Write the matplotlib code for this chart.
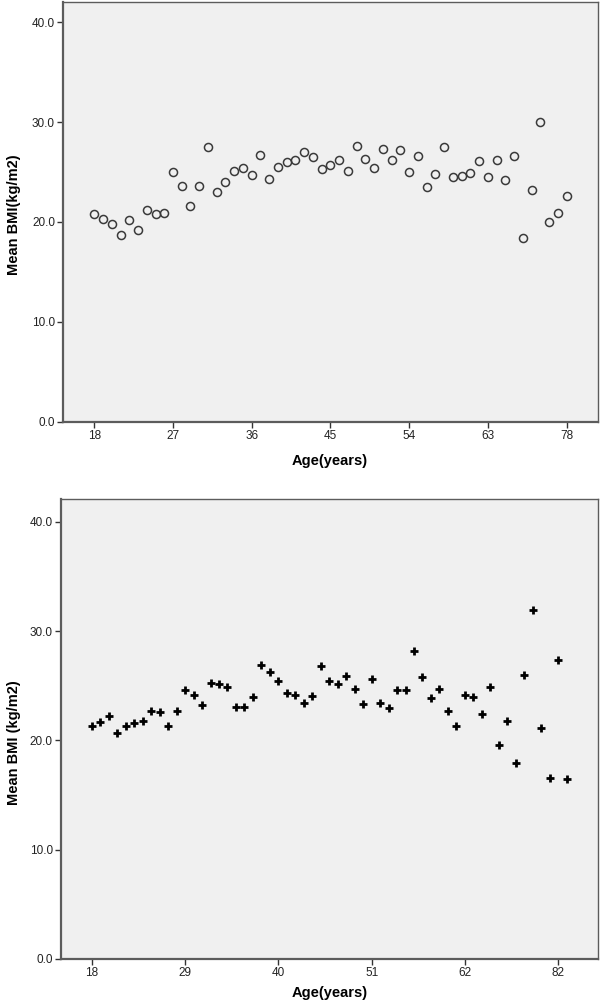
"""
年龄与平均BMI散点图（上：圆圈，下：十字）
"""
import numpy as np
import matplotlib
matplotlib.use('Agg')
import matplotlib.pyplot as plt

plt.rcParams['font.family'] = ['Liberation Sans', 'DejaVu Sans']

# 上图：年龄分类及平均BMI
ages_top = list(range(18, 64)) + [64, 65, 66, 67, 68, 70, 72, 75, 78]
bmi_top = [20.8, 20.3, 19.8, 18.7, 20.2, 19.2, 21.2, 20.8, 20.9, 25.0,
           23.6, 21.6, 23.6, 27.5, 23.0, 24.0, 25.1, 25.4, 24.7, 26.7,
           24.3, 25.5, 26.0, 26.2, 27.0, 26.5, 25.3, 25.7, 26.2, 25.1,
           27.6, 26.3, 25.4, 27.3, 26.2, 27.2, 25.0, 26.6, 23.5, 24.8,
           27.5, 24.5, 24.6, 24.9, 26.1, 24.5, 26.2, 24.2, 26.6, 18.4,
           23.2, 30.0, 20.0, 20.9, 22.6]
ticks_top = [18, 27, 36, 45, 54, 63, 78]

# 下图：年龄分类及平均BMI
ages_bottom = list(range(18, 63)) + [63, 64, 65, 66, 67, 68, 69, 70, 72, 75, 82, 85]
bmi_bottom = [21.3, 21.7, 22.2, 20.7, 21.3, 21.6, 21.8, 22.7, 22.6, 21.3,
              22.7, 24.6, 24.2, 23.2, 25.3, 25.2, 24.9, 23.1, 23.1, 24.0,
              26.9, 26.3, 25.4, 24.3, 24.2, 23.4, 24.1, 26.8, 25.4, 25.2,
              25.9, 24.7, 23.3, 25.6, 23.4, 23.0, 24.6, 24.6, 28.2, 25.8,
              23.9, 24.7, 22.7, 21.3, 24.2, 24.0, 22.4, 24.9, 19.6, 21.8,
              17.9, 26.0, 31.9, 21.1, 16.6, 27.4, 16.5]
ticks_bottom = [18, 29, 40, 51, 62, 82]

yticks = [0, 10, 20, 30, 40]

BG = '#f0f0f0'
FRAME = '#5c5c5c'


def style_axes(ax, ages, ticks, xlim, ylim):
    """SPSS 风格的坐标轴"""
    ax.set_facecolor(BG)
    for s in ax.spines.values():
        s.set_color(FRAME)
        s.set_linewidth(1.0)
    ax.spines['left'].set_linewidth(1.6)
    ax.spines['bottom'].set_linewidth(1.6)
    ax.set_xlim(*xlim)
    ax.set_ylim(*ylim)
    ax.set_xticks([ages.index(a) for a in ticks])
    ax.set_xticklabels([str(a) for a in ticks])
    ax.set_yticks(yticks)
    ax.set_yticklabels(['%.1f' % v for v in yticks])
    ax.tick_params(direction='out', length=4, width=1, color='#333333',
                   labelsize=8.5, labelcolor='#222222', pad=2)


fig = plt.figure(figsize=(6.0, 10.05), dpi=100)
fig.patch.set_facecolor('white')

# 上图
ax1 = fig.add_axes([0.1055, 0.5804, 0.891, 0.4176])
x1 = np.arange(len(ages_top))
ax1.plot(x1, bmi_top, linestyle='none', marker='o', markersize=5.8,
         markerfacecolor='none', markeredgecolor='#3a3a3a', markeredgewidth=1.1)
style_axes(ax1, ages_top, ticks_top, (-3.54, 57.57), (0, 42.03))
fig.text(330 / 600, 1 - 461 / 1005, 'Age(years)', ha='center', va='center',
         fontsize=10.5, fontweight='bold')
fig.text(14 / 600, 1 - 215 / 1005, 'Mean BMI(kg/m2)', ha='center', va='center',
         rotation=90, fontsize=10.5, fontweight='bold')

# 下图
ax2 = fig.add_axes([0.1017, 0.0458, 0.895, 0.4577])
x2 = np.arange(len(ages_bottom))
ax2.plot(x2, bmi_bottom, linestyle='none', marker='+', markersize=6,
         markeredgecolor='black', markeredgewidth=2.0)
style_axes(ax2, ages_bottom, ticks_bottom, (-3.63, 59.7), (0, 42.1))
fig.text(330 / 600, 1 - 993 / 1005, 'Age(years)', ha='center', va='center',
         fontsize=10.5, fontweight='bold')
fig.text(14 / 600, 1 - 743 / 1005, 'Mean BMI (kg/m2)', ha='center', va='center',
         rotation=90, fontsize=10.5, fontweight='bold')

fig.savefig('out.png', dpi=100, facecolor='white')
plt.close(fig)
